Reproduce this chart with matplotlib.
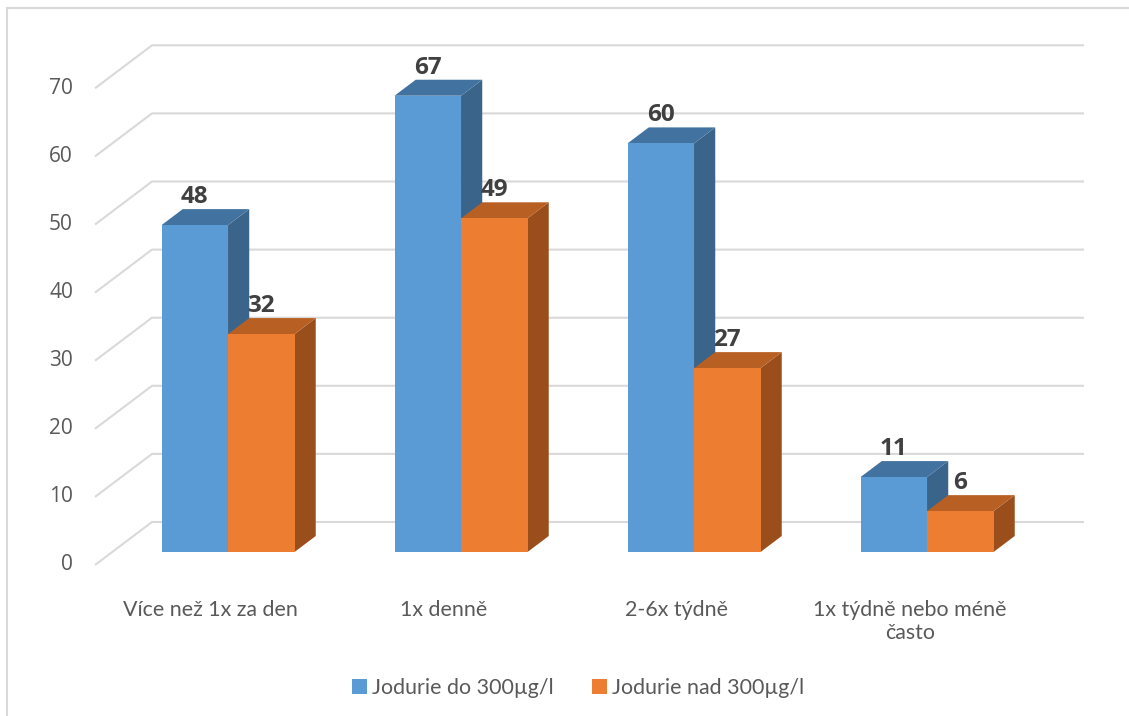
import matplotlib
matplotlib.use("Agg")
import matplotlib.pyplot as plt
from matplotlib.patches import Polygon, Patch

plt.rcParams['font.family'] = ['Lato', 'DejaVu Sans']
NUM_FONT = ['Open Sans', 'DejaVu Sans']

categories = ["Více než 1x za den", "1x denně", "2-6x týdně", "1x týdně nebo méně\nčasto"]
series_names = ["Jodurie do 300µg/l", "Jodurie nad 300µg/l"]
jodurie_do = [48, 67, 60, 11]
jodurie_nad = [32, 49, 27, 6]
y_ticks = [0, 10, 20, 30, 40, 50, 60, 70]

W, H = 1129, 716
fig = plt.figure(figsize=(W / 100, H / 100), dpi=100)
ax = fig.add_axes([0, 0, 1, 1])
ax.set_axis_off()

# pixel geometry of the oblique 3D view
PX_PER_UNIT = 6.81      # vertical pixels per value unit
PX_PER_CAT = 233.0      # horizontal pixels per category
ORIGIN_X = 210.8        # pixel x of first category centre (front plane)
ORIGIN_Y = 565.0        # pixel y (from top) of value 0 on front plane
ax.set_xlim(-ORIGIN_X / PX_PER_CAT, (W - ORIGIN_X) / PX_PER_CAT)
ax.set_ylim(-(H - ORIGIN_Y) / PX_PER_UNIT, ORIGIN_Y / PX_PER_UNIT)

DEPTH_DX = 57.0 / 43.0  # horizontal shift per pixel of vertical depth


def proj(x, v, d):
    """Project category-x, value, depth(px) into axis coordinates."""
    return (x + d * DEPTH_DX / PX_PER_CAT, v + d / PX_PER_UNIT)


grid_color = "#D9D9D9"
WALL = 43.0
for t in y_ticks:
    x_front = (95 - ORIGIN_X) / PX_PER_CAT
    x_end = (1084 - ORIGIN_X) / PX_PER_CAT
    p0 = proj(x_front, t, 0)
    p1 = proj(x_front, t, WALL)
    p2 = (x_end, p1[1])
    ax.plot([p0[0], p1[0], p2[0]], [p0[1], p1[1], p2[1]], color=grid_color,
            lw=1.5, solid_capstyle="butt", zorder=1)
    ax.text((73 - ORIGIN_X) / PX_PER_CAT, t, str(t), ha="right", va="center",
            fontsize=15, color="#595959", family=NUM_FONT)

bar_w = 66.5 / PX_PER_CAT
D_FRONT, D_BACK = 13.0, 29.0
palette = [
    ("#5B9BD5", "#4273A0", "#3A6489"),   # front, top, side
    ("#ED7D31", "#B85F23", "#9A4E1C"),
]

for i, cat in enumerate(categories):
    for s, vals in enumerate([jodurie_do, jodurie_nad]):
        v = vals[i]
        front, top, side = palette[s]
        x0 = i - bar_w + s * bar_w
        x1 = x0 + bar_w
        # front face
        f = [proj(x0, 0, D_FRONT), proj(x1, 0, D_FRONT), proj(x1, v, D_FRONT), proj(x0, v, D_FRONT)]
        # top face
        tp = [proj(x0, v, D_FRONT), proj(x1, v, D_FRONT), proj(x1, v, D_BACK), proj(x0, v, D_BACK)]
        # right side face
        sd = [proj(x1, 0, D_FRONT), proj(x1, 0, D_BACK), proj(x1, v, D_BACK), proj(x1, v, D_FRONT)]
        z = 3 + i * 2 + s
        for poly, col in ((sd, side), (tp, top), (f, front)):
            ax.add_patch(Polygon(poly, closed=True, facecolor=col, edgecolor="none", zorder=z))
        lx = proj((x0 + x1) / 2, v, D_FRONT)[0]
        ly = proj(0, v, D_BACK)[1] + 12 / PX_PER_UNIT
        ax.text(lx, ly, str(v), ha="center", va="center", fontsize=17.5,
                fontweight="bold", color="#404040", zorder=20, family=NUM_FONT)
    ax.text(i, (ORIGIN_Y - 600) / PX_PER_UNIT, cat, ha="center", va="top",
            fontsize=15.4, color="#595959", linespacing=1.2)

# chart border
fig.add_artist(plt.Line2D([7 / W, 7 / W], [0, 1 - 8 / H], color=grid_color, lw=1.5,
                          transform=fig.transFigure))
fig.add_artist(plt.Line2D([7 / W, 1], [1 - 8 / H, 1 - 8 / H], color=grid_color, lw=1.5,
                          transform=fig.transFigure))

handles = [Patch(facecolor=palette[k][0], edgecolor="none") for k in range(2)]
fig.legend(handles, series_names, loc="center", bbox_to_anchor=(0.512, 1 - 688 / H),
           ncol=2, frameon=False, fontsize=15.4, handlelength=0.7, handleheight=0.7,
           handletextpad=0.25, columnspacing=1.8, labelcolor="#595959")

fig.savefig("out.png", dpi=100)
